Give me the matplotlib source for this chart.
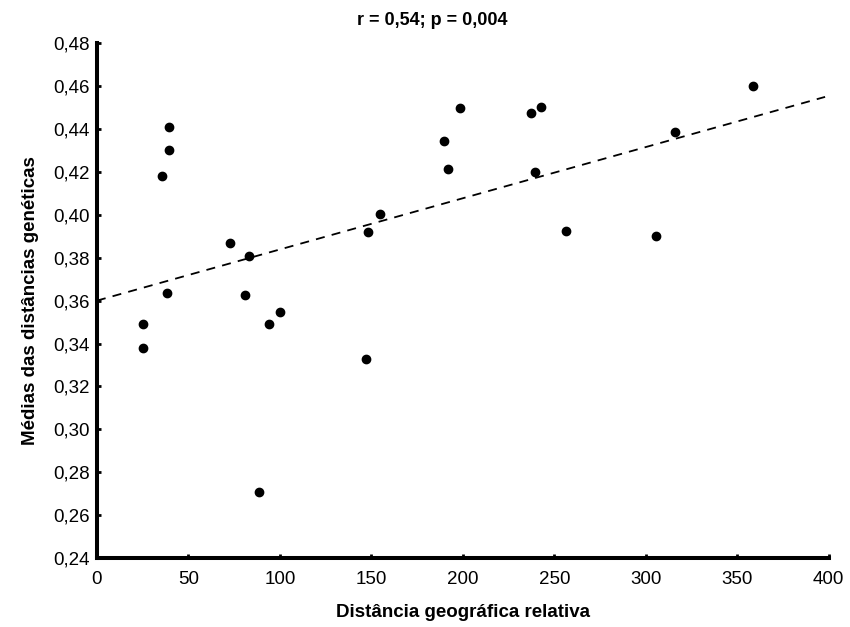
import numpy as np
import matplotlib
matplotlib.use("Agg")
import matplotlib.pyplot as plt

plt.rcParams['font.family'] = ['Liberation Sans', 'DejaVu Sans']

# Data
dist_geo = [39.3, 39.3, 35.7, 72.5, 82.9, 38.4, 81.0, 25.1, 25.1, 94.2,
            100.0, 88.4, 148.1, 154.9, 189.7, 191.9, 198.4, 237.1, 242.8,
            239.2, 256.3, 305.4, 315.9, 358.5, 147.2]
dist_gen = [0.4409, 0.4302, 0.4183, 0.3868, 0.3806, 0.3634, 0.3626, 0.3490,
            0.3378, 0.3490, 0.3547, 0.2707, 0.3919, 0.4006, 0.4344, 0.4215,
            0.4498, 0.4473, 0.4505, 0.4200, 0.3927, 0.3902, 0.4386, 0.4603,
            0.3328]
line_x = [0, 398]
line_y = [0.360, 0.455]

xticks = [0, 50, 100, 150, 200, 250, 300, 350, 400]
yticks = [0.24, 0.26, 0.28, 0.30, 0.32, 0.34, 0.36, 0.38, 0.40, 0.42, 0.44, 0.46, 0.48]

fig = plt.figure(figsize=(8.5, 6.27), dpi=100)
ax = fig.add_axes([0.114, 0.110, 0.861, 0.821])

ax.plot(line_x, line_y, color='black', linestyle=(0, (5, 4)), linewidth=1.3, zorder=2)
ax.scatter(dist_geo, dist_gen, s=36, color='black', zorder=3, clip_on=False)

ax.set_xlim(0, 400)
ax.set_ylim(0.24, 0.48)
ax.set_xticks(xticks)
ax.set_yticks(yticks)
ax.set_xticklabels([str(t) for t in xticks])
ax.set_yticklabels([f"{t:.2f}".replace('.', ',') for t in yticks])

for s in ['top', 'right']:
    ax.spines[s].set_visible(False)
for s in ['left', 'bottom']:
    ax.spines[s].set_linewidth(2.9)
ax.tick_params(direction='in', length=3, width=2, labelsize=13.5)
ax.tick_params(axis='x', pad=9)
ax.tick_params(axis='y', pad=5)

ax.set_xlabel('Distância geográfica relativa', fontsize=13.5, fontweight='bold', labelpad=12)
ax.set_ylabel('Médias das distâncias genéticas', fontsize=13.5, fontweight='bold', labelpad=10)
fig.text(0.508, 0.968, 'r = 0,54; p = 0,004', ha='center', va='center',
         fontsize=13, fontweight='bold')

fig.savefig('out.png', dpi=100)
